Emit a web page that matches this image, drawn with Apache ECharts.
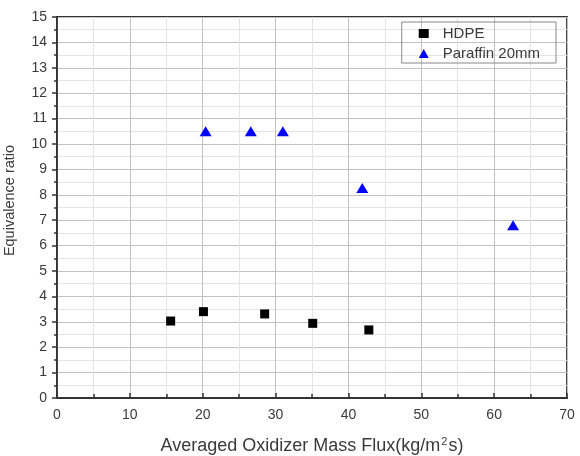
<!DOCTYPE html>
<html>
<head>
<meta charset="utf-8">
<script src="https://cdn.jsdelivr.net/npm/echarts@6/dist/echarts.min.js"></script>
<style>
html, body { margin: 0; padding: 0; background: #fff; }
#chart { width: 580px; height: 456px; }
</style>
</head>
<body>
<div id="chart"></div>
<script>
// HDPE data
var hdpeFlux = [15.6, 20.1, 28.5, 35.1, 42.8];
var hdpeRatio = [3.03, 3.40, 3.31, 2.94, 2.68];
// Paraffin 20mm data
var paraffinFlux = [20.4, 26.6, 31.0, 41.9, 62.6];
var paraffinRatio = [10.5, 10.5, 10.5, 8.27, 6.8];

function pairs(xs, ys){
    var out = [];
    for (var i = 0; i < xs.length; i++) out.push([xs[i], ys[i]]);
    return out;
}

var font = 'Liberation Sans, Arial, sans-serif';
var txt = '#3a3a3a';
var chart = echarts.init(document.getElementById('chart'));

chart.setOption({
    animation: false,
    textStyle: { fontFamily: font },
    grid: {
        left: 57, right: 13, top: 17, bottom: 58,
        outerBoundsMode: 'none', containLabel: false,
        show: true, borderColor: '#333', borderWidth: 1.8
    },
    legend: {
        orient: 'vertical',
        top: 22, right: 24,
        itemGap: 5,
        itemWidth: 10, itemHeight: 9,
        padding: [4, 16, 2, 17],
        borderColor: '#888', borderWidth: 1,
        textStyle: { fontFamily: font, fontSize: 15, color: txt, padding: [0, 0, 0, 9] },
        data: [
            { name: 'HDPE', icon: 'rect' },
            { name: 'Paraffin 20mm', icon: 'triangle' }
        ]
    },
    xAxis: {
        type: 'value', min: 0, max: 70, interval: 10,
        name: '{a|Averaged Oxidizer Mass Flux(kg/m}{s|2}{a|s)}',
        nameLocation: 'middle', nameGap: 38,
        nameTextStyle: {
            rich: {
                a: { fontFamily: font, fontSize: 18, color: txt },
                s: { fontFamily: font, fontSize: 11, color: txt, padding: [0, 1, 10, 1] }
            }
        },
        axisLine: { lineStyle: { color: '#333', width: 1.8 } },
        axisTick: { inside: true, length: 5, lineStyle: { color: '#333', width: 1.5 } },
        minorTick: { show: true, splitNumber: 2, length: 4, lineStyle: { color: '#333', width: 1.5 } },
        axisLabel: { fontFamily: font, fontSize: 14, color: txt, margin: 10 },
        splitLine: { show: true, lineStyle: { color: '#c2c2c2', width: 1 } },
        minorSplitLine: { show: true, lineStyle: { color: '#e4e4e4', width: 1 } }
    },
    yAxis: {
        type: 'value', min: 0, max: 15, interval: 1,
        name: 'Equivalence ratio',
        nameLocation: 'middle', nameGap: 40,
        nameTextStyle: { fontFamily: font, fontSize: 14.5, color: txt, padding: [0, 0, 0, 14] },
        axisLine: { show: true, lineStyle: { color: '#333', width: 1.8 } },
        axisTick: { show: true, length: 5, lineStyle: { color: '#333', width: 1.5 } },
        minorTick: { show: true, splitNumber: 2, length: 3, lineStyle: { color: '#333', width: 1.5 } },
        axisLabel: { fontFamily: font, fontSize: 14, color: txt, margin: 10 },
        splitLine: { show: true, lineStyle: { color: '#c2c2c2', width: 1 } },
        minorSplitLine: { show: true, lineStyle: { color: '#e4e4e4', width: 1 } }
    },
    series: [
        {
            name: 'HDPE', type: 'scatter', symbol: 'rect', symbolSize: 9,
            itemStyle: { color: '#000', opacity: 1 },
            data: pairs(hdpeFlux, hdpeRatio)
        },
        {
            name: 'Paraffin 20mm', type: 'scatter', symbol: 'triangle', symbolSize: [12, 10],
            itemStyle: { color: '#0000ff', opacity: 1 },
            data: pairs(paraffinFlux, paraffinRatio)
        }
    ]
});
</script>
</body>
</html>
